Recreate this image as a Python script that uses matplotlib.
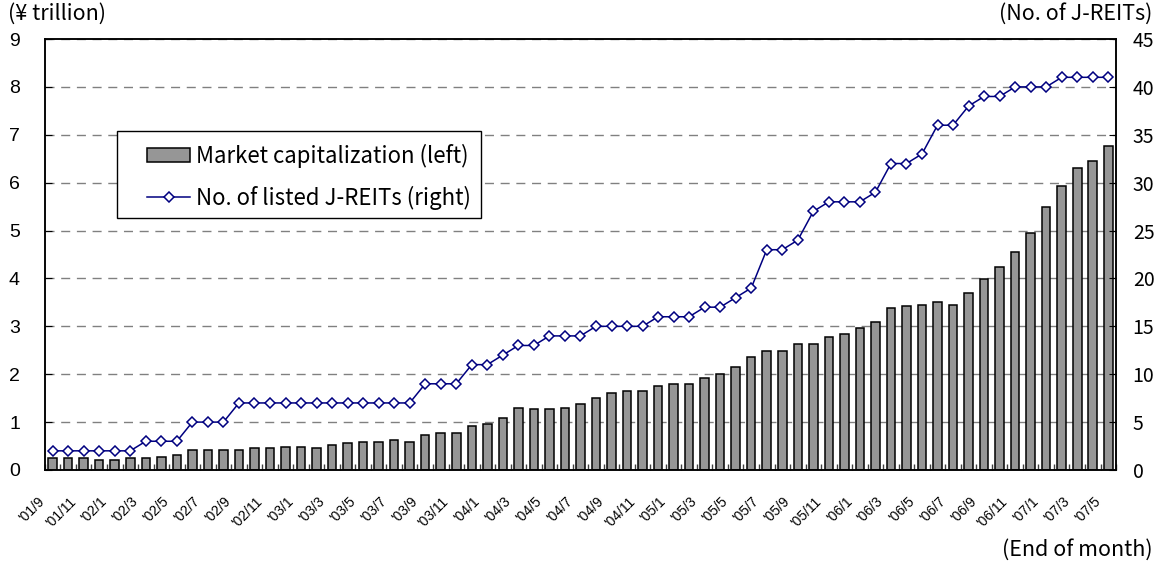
import matplotlib
matplotlib.use("Agg")
import matplotlib.pyplot as plt
import matplotlib.transforms as mtransforms
from matplotlib.patches import Rectangle
import numpy as np

plt.rcParams['font.family'] = ['Noto Sans CJK JP', 'DejaVu Sans']

# month-end, '01/9 .. '07/5 (labels every other month)
tick_labels = ["'01/9", "'01/11",
               "'02/1", "'02/3", "'02/5", "'02/7", "'02/9", "'02/11",
               "'03/1", "'03/3", "'03/5", "'03/7", "'03/9", "'03/11",
               "'04/1", "'04/3", "'04/5", "'04/7", "'04/9", "'04/11",
               "'05/1", "'05/3", "'05/5", "'05/7", "'05/9", "'05/11",
               "'06/1", "'06/3", "'06/5", "'06/7", "'06/9", "'06/11",
               "'07/1", "'07/3", "'07/5"]

# market capitalization, ¥ trillion
market_cap = [0.24, 0.24, 0.24, 0.21, 0.21, 0.24, 0.24, 0.28, 0.31, 0.42,
              0.42, 0.42, 0.42, 0.45, 0.45, 0.49, 0.49, 0.45, 0.52, 0.56,
              0.59, 0.59, 0.63, 0.59, 0.73, 0.78, 0.78, 0.92, 0.95, 1.09,
              1.30, 1.27, 1.27, 1.30, 1.37, 1.51, 1.61, 1.65, 1.65, 1.75,
              1.80, 1.80, 1.93, 2.00, 2.15, 2.36, 2.49, 2.49, 2.63, 2.63,
              2.78, 2.85, 2.96, 3.10, 3.38, 3.42, 3.44, 3.51, 3.44, 3.69,
              3.98, 4.23, 4.56, 4.94, 5.50, 5.93, 6.31, 6.45, 6.77]

# number of listed J-REITs
num_reits = [2, 2, 2, 2, 2, 2, 3, 3, 3, 5,
             5, 5, 7, 7, 7, 7, 7, 7, 7, 7,
             7, 7, 7, 7, 9, 9, 9, 11, 11, 12,
             13, 13, 14, 14, 14, 15, 15, 15, 15, 16,
             16, 16, 17, 17, 18, 19, 23, 23, 24, 27,
             28, 28, 28, 29, 32, 32, 33, 36, 36, 38,
             39, 39, 40, 40, 40, 41, 41, 41, 41]

x = np.arange(len(market_cap))

fig = plt.figure(figsize=(11.57, 5.67), dpi=100)
ax = fig.add_axes([0.0388, 0.1711, 0.9258, 0.7601])
ax.set_axisbelow(True)

ax.bar(x, market_cap, width=0.55, color='#969696', edgecolor='black',
       linewidth=1.1, label='Market capitalization (left)', zorder=2)
ax.set_xlim(-0.5, len(x) - 0.5)
ax.set_ylim(0, 9)
ax.set_yticks(range(0, 10))
ax.yaxis.grid(True, color='#808080', linestyle=(0, (6.5, 4.8)), linewidth=1.0)

ax.set_xticks(x[::2])
ax.set_xticklabels(tick_labels, fontsize=10, family='Liberation Sans')
ax.set_xticks(np.arange(-0.5, len(x)), minor=True)
ax.tick_params(axis='x', which='major', length=0, pad=21)
ax.tick_params(axis='x', which='minor', direction='in', length=4,
               width=1, color='#404040')
ax.tick_params(axis='y', direction='in', length=5, pad=18, labelsize=14)
for lbl in ax.get_yticklabels():
    lbl.set_family('Liberation Sans')

for lbl in ax.get_xticklabels():
    lbl.set_rotation(45)
    lbl.set_ha('right')
    lbl.set_va('center')
    lbl.set_rotation_mode('anchor')
    lbl.set_transform(lbl.get_transform() +
                      mtransforms.ScaledTranslation(-0.10, 0, fig.dpi_scale_trans))

ax2 = ax.twinx()
ax2.plot(x, num_reits, color='#000080', linewidth=1.1, marker='D',
         markersize=5.2, markerfacecolor='white', markeredgecolor='#000080',
         markeredgewidth=1.1, label='No. of listed J-REITs (right)',
         zorder=3, clip_on=False)
ax2.set_ylim(0, 45)
ax2.set_yticks(range(0, 46, 5))
ax2.tick_params(axis='y', direction='in', length=5, pad=12, labelsize=14)

for a in (ax, ax2):
    for s in a.spines.values():
        s.set_color('black')
        s.set_linewidth(1.1)

frame = Rectangle((0.0673, 0.5847), 0.3399, 0.2018, transform=ax2.transAxes,
                  facecolor='white', edgecolor='black', linewidth=1.0, zorder=4)
ax2.add_artist(frame)

h1, l1 = ax.get_legend_handles_labels()
h2, l2 = ax2.get_legend_handles_labels()
leg = ax2.legend(h1 + h2, l1 + l2, loc='upper left',
                 bbox_to_anchor=(0.0953, 0.7575), frameon=False, fontsize=16,
                 handlelength=1.94, handleheight=0.63, handletextpad=0.27,
                 labelspacing=0.81, borderpad=0, borderaxespad=0, numpoints=1)
leg.set_zorder(5)

fig.text(8 / 1157, 1 - 14 / 567, '(¥ trillion)', ha='left', va='center', fontsize=15.5)
fig.text(1152 / 1157, 1 - 14 / 567, '(No. of J-REITs)', ha='right', va='center', fontsize=15.5)
fig.text(1153 / 1157, 1 - 550 / 567, '(End of month)', ha='right', va='center', fontsize=15.5)

fig.savefig('out.png', dpi=100)
